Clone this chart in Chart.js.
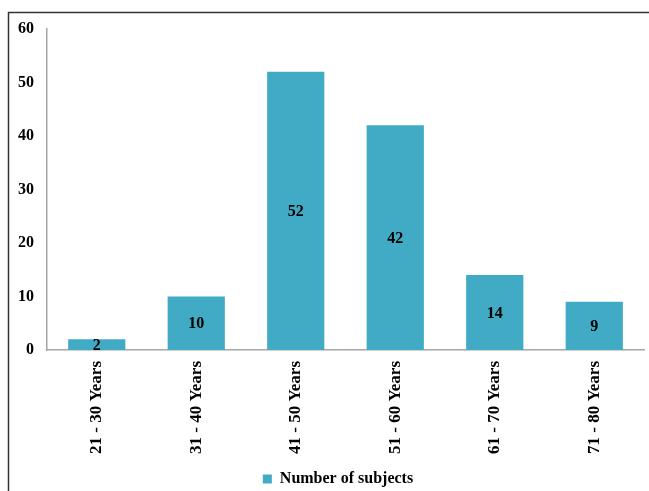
<!DOCTYPE html>
<html>
<head>
<meta charset="utf-8">
<script src="https://cdn.jsdelivr.net/npm/chart.js@4"></script>
<style>
html,body{margin:0;padding:0;background:#fff;}
#wrap{position:relative;width:649px;height:491px;}
canvas{display:block;}
</style>
</head>
<body>
<div id="wrap"><canvas id="c" width="649" height="491"></canvas></div>
<script>
const categories = ["21 - 30 Years","31 - 40 Years","41 - 50 Years","51 - 60 Years","61 - 70 Years","71 - 80 Years"];
const subjects = [2, 10, 52, 42, 14, 9];
const seriesName = "Number of subjects";
const yTicks = [0, 10, 20, 30, 40, 50, 60];

const FONT = "'Liberation Serif','Times New Roman',serif";
const BAR = "#41abc6";
const PAD_BOTTOM = -6;

const frame = {
  id: 'frame',
  beforeDraw(chart) {
    const ctx = chart.ctx;
    ctx.save();
    ctx.fillStyle = '#fff';
    ctx.fillRect(0, 0, chart.width, chart.height);
    ctx.strokeStyle = '#333';
    ctx.lineWidth = 1.5;
    ctx.beginPath();
    ctx.moveTo(8.5, chart.height);
    ctx.lineTo(8.5, 12.5);
    ctx.lineTo(chart.width, 12.5);
    ctx.stroke();
    ctx.restore();
  }
};

const legendShift = {
  id: 'legendShift',
  afterLayout(chart) {
    if (chart.legend) chart.legend.left = 32;
  }
};

const barLabels = {
  id: 'barLabels',
  afterDatasetsDraw(chart) {
    const ctx = chart.ctx;
    const meta = chart.getDatasetMeta(0);
    ctx.save();
    ctx.font = "bold 16px " + FONT;
    ctx.fillStyle = '#000';
    ctx.textAlign = 'center';
    ctx.textBaseline = 'middle';
    meta.data.forEach((el, i) => {
      const p = el.getProps(['x', 'y', 'base'], true);
      ctx.fillText(String(subjects[i]), p.x, (p.y + p.base) / 2 + 1);
    });
    ctx.restore();
  }
};

new Chart(document.getElementById('c'), {
  type: 'bar',
  data: {
    labels: categories,
    datasets: [{
      label: seriesName,
      data: subjects,
      backgroundColor: BAR,
      borderWidth: 0,
      categoryPercentage: 0.575,
      barPercentage: 1.0
    }]
  },
  options: {
    responsive: false,
    animation: false,
    events: [],
    layout: { padding: { top: 29, right: 5, left: 0, bottom: PAD_BOTTOM } },
    plugins: {
      tooltip: { enabled: false },
      legend: {
        position: 'bottom',
        labels: {
          font: { family: FONT, size: 16, weight: 'bold' },
          color: '#000',
          boxWidth: 9,
          boxHeight: 9,
          padding: 2
        }
      }
    },
    scales: {
      x: {
        grid: { display: false, drawTicks: false },
        border: { display: true, color: '#a6a6a6', width: 1.5 },
        ticks: {
          font: { family: FONT, size: 17, weight: 'bold' },
          color: '#000',
          minRotation: 90,
          maxRotation: 90,
          padding: 11,
          autoSkip: false
        },
        afterFit(scale) {
          const lh = scale.chart.legend ? scale.chart.legend.height : 26;
          scale.height = 491 - PAD_BOTTOM - lh - 350;
        }
      },
      y: {
        min: 0,
        max: 60,
        grid: { display: false, drawTicks: false },
        border: { display: true, color: '#a6a6a6', width: 1.5 },
        afterBuildTicks(scale) { scale.ticks = yTicks.map(v => ({ value: v })); },
        ticks: {
          font: { family: FONT, size: 16, weight: 'bold' },
          color: '#000',
          padding: 13
        },
        afterFit(scale) { scale.width = 47; }
      }
    }
  },
  plugins: [frame, legendShift, barLabels]
});
</script>
</body>
</html>
